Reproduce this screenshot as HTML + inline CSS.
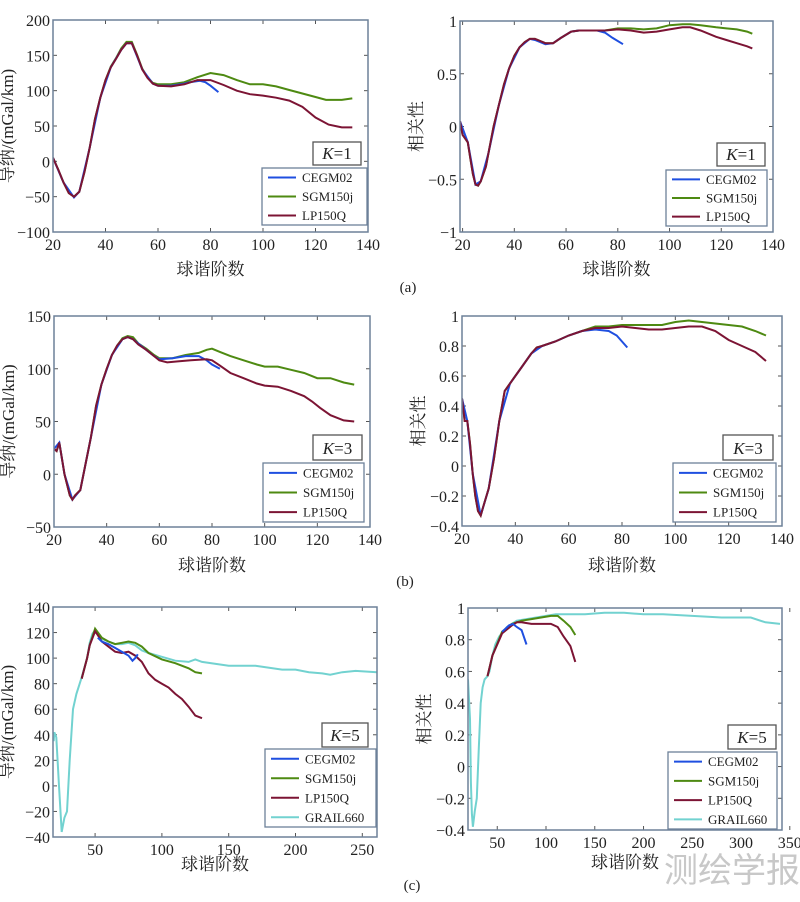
<!DOCTYPE html>
<html><head><meta charset="utf-8"><style>
body{margin:0;background:#fff;width:800px;height:897px;overflow:hidden}
svg text{font-family:"Liberation Serif","Noto Serif CJK SC",serif;fill:#222}
</style></head><body>
<svg id="fig" width="800" height="897" xmlns="http://www.w3.org/2000/svg">
<text x="408" y="292" font-size="15" text-anchor="middle">(a)</text>
<text x="405" y="586" font-size="15" text-anchor="middle">(b)</text>
<text x="412" y="890" font-size="15" text-anchor="middle">(c)</text>
<text x="732" y="882" font-size="34" fill="#c8c8c8" style="fill:#c8c8c8;font-family:'Liberation Sans','Noto Sans CJK SC',sans-serif" text-anchor="middle">测绘学报</text>
</svg>
<script>
// ---- data ----
const aL_LP=[[20,5],[22,-12],[24,-30],[26,-45],[28,-50],[30,-43],[32,-15],[34,20],[36,60],[38,90],[40,115],[42,133],[44,145],[46,158],[48,167],[50,167],[52,150],[54,130],[56,118],[58,110],[60,107],[65,106],[70,109],[75,115],[80,115],[85,108],[90,100],[95,95],[100,93],[105,90],[110,86],[115,77],[120,62],[125,52],[130,48],[134,48]];
const aL_SGM=[[20,5],[22,-12],[24,-30],[26,-45],[28,-50],[30,-43],[32,-15],[34,20],[36,60],[38,90],[40,115],[42,134],[44,146],[46,160],[48,169],[50,169],[52,151],[54,131],[56,119],[58,111],[60,109],[65,109],[70,112],[75,119],[80,125],[85,122],[90,115],[95,109],[100,109],[105,106],[110,101],[115,96],[120,91],[124,87],[130,87],[134,89]];
const aL_CE=[[20,5],[24,-30],[28,-51],[30,-43],[34,20],[38,90],[42,133],[46,158],[48,167],[50,167],[54,130],[58,110],[60,107],[65,107],[70,110],[72,112],[76,114],[78,112],[80,107],[83,98]];
const aR_LP=[[19,0.05],[20,-0.08],[22,-0.15],[23,-0.3],[24,-0.45],[25,-0.55],[26,-0.56],[27,-0.52],[28,-0.45],[29,-0.38],[30,-0.25],[32,0],[34,0.2],[36,0.4],[38,0.55],[40,0.67],[42,0.75],[44,0.8],[46,0.83],[48,0.83],[50,0.81],[52,0.79],[55,0.79],[58,0.84],[62,0.9],[65,0.91],[70,0.91],[75,0.91],[80,0.92],[85,0.91],[90,0.89],[95,0.9],[100,0.92],[105,0.94],[108,0.94],[112,0.91],[118,0.85],[122,0.82],[126,0.79],[130,0.76],[132,0.74]];
const aR_SGM=[[19,0.05],[20,-0.08],[22,-0.15],[23,-0.3],[24,-0.45],[25,-0.55],[26,-0.56],[27,-0.52],[28,-0.45],[29,-0.38],[30,-0.25],[32,0],[34,0.2],[36,0.4],[38,0.55],[40,0.67],[42,0.75],[44,0.8],[46,0.83],[48,0.83],[50,0.81],[52,0.79],[55,0.79],[58,0.84],[62,0.9],[65,0.91],[70,0.91],[75,0.91],[80,0.93],[85,0.93],[90,0.92],[95,0.93],[100,0.96],[105,0.97],[108,0.97],[112,0.96],[118,0.94],[122,0.93],[126,0.92],[130,0.9],[132,0.88]];
const aR_CE=[[19,0.05],[22,-0.15],[25,-0.55],[27,-0.52],[30,-0.25],[34,0.2],[38,0.55],[42,0.75],[46,0.83],[48,0.82],[50,0.8],[52,0.78],[55,0.79],[58,0.84],[62,0.9],[65,0.91],[72,0.91],[75,0.89],[78,0.84],[82,0.78]];
const bL_LP=[[20,24],[21,22],[22,30],[23,15],[24,0],[26,-20],[27,-24],[28,-20],[30,-15],[32,10],[34,35],[36,65],[38,85],[40,100],[42,113],[44,122],[46,128],[48,130],[50,128],[52,123],[55,118],[58,112],[60,108],[63,106],[67,107],[72,108],[78,109],[80,108],[83,103],[87,96],[92,91],[97,86],[100,84],[105,83],[110,79],[115,74],[118,69],[121,63],[125,56],[130,51],[134,50]];
const bL_SGM=[[20,24],[21,22],[22,30],[23,15],[24,0],[26,-20],[27,-24],[28,-20],[30,-15],[32,10],[34,35],[36,65],[38,85],[40,100],[42,113],[44,122],[46,129],[48,131],[50,130],[52,124],[55,119],[58,113],[60,110],[65,110],[70,113],[75,115],[78,118],[80,119],[83,116],[87,112],[92,108],[97,104],[100,102],[105,102],[110,99],[115,96],[120,91],[125,91],[130,87],[134,85]];
const bL_CE=[[20,24],[22,30],[24,0],[27,-24],[30,-15],[34,35],[38,85],[42,113],[46,128],[48,130],[50,128],[55,118],[58,112],[60,109],[65,110],[70,112],[75,112],[78,108],[80,104],[83,100]];
const bR_LP=[[20,0.45],[21,0.3],[22,0.3],[23,0.15],[24,-0.05],[25,-0.2],[26,-0.3],[27,-0.33],[28,-0.27],[30,-0.15],[32,0.05],[34,0.3],[36,0.5],[38,0.55],[40,0.6],[42,0.65],[44,0.7],[46,0.75],[48,0.79],[50,0.8],[55,0.83],[60,0.87],[65,0.9],[70,0.92],[75,0.92],[80,0.93],[85,0.92],[90,0.91],[95,0.91],[100,0.92],[105,0.93],[110,0.93],[115,0.9],[120,0.84],[125,0.8],[130,0.76],[134,0.7]];
const bR_SGM=[[20,0.45],[21,0.3],[22,0.3],[23,0.15],[24,-0.05],[25,-0.2],[26,-0.3],[27,-0.33],[28,-0.27],[30,-0.15],[32,0.05],[34,0.3],[36,0.5],[38,0.55],[40,0.6],[42,0.65],[44,0.7],[46,0.75],[48,0.79],[50,0.8],[55,0.83],[60,0.87],[65,0.9],[70,0.93],[75,0.93],[80,0.94],[90,0.94],[95,0.94],[100,0.96],[105,0.97],[110,0.96],[115,0.95],[120,0.94],[125,0.93],[130,0.9],[134,0.87]];
const bR_CE=[[20,0.45],[22,0.3],[24,-0.05],[27,-0.33],[30,-0.15],[34,0.3],[38,0.55],[42,0.65],[46,0.75],[50,0.8],[55,0.83],[60,0.87],[65,0.9],[70,0.91],[75,0.9],[78,0.87],[80,0.83],[82,0.79]];
const cL_GR=[[19,35],[19.5,42],[21,38],[23,0],[25,-36],[27,-25],[29,-20],[31,20],[33.5,60],[36,72],[40,85],[44,100],[46,112],[48,119],[50,122],[52,118],[55,115],[60,113],[65,111],[70,111],[75,112],[80,110],[85,106],[90,104],[100,101],[110,98],[120,97],[125,99],[130,97],[150,94],[170,94],[190,91],[200,91],[210,89],[220,88],[226,87],[235,89],[245,90],[261,89]];
const cL_SGM=[[40,84],[44,100],[46,110],[50,123],[55,116],[60,113],[65,111],[70,112],[75,113],[80,112],[85,109],[90,104],[100,99],[110,96],[120,92],[125,89],[130,88]];
const cL_LP=[[40,84],[44,100],[46,110],[50,121],[52,118],[55,113],[60,109],[65,105],[70,104],[75,105],[80,102],[85,97],[90,88],[95,83],[100,80],[105,77],[110,72],[115,68],[120,62],[125,55],[130,53]];
const cL_CE=[[52,116],[55,113],[60,111],[65,108],[70,105],[75,102],[78,98],[80,100],[82,103]];
const cR_GR=[[20,0.55],[22,0.3],[23,-0.1],[24,-0.3],[25,-0.38],[27,-0.28],[29,-0.2],[31,0.1],[33,0.4],[35,0.5],[37,0.55],[40,0.57],[42,0.6],[45,0.7],[48,0.77],[52,0.82],[56,0.85],[60,0.88],[65,0.9],[70,0.92],[80,0.93],[90,0.94],[100,0.95],[110,0.96],[120,0.96],[140,0.96],[160,0.97],[180,0.97],[200,0.96],[220,0.96],[250,0.95],[280,0.94],[310,0.94],[325,0.91],[340,0.9]];
const cR_SGM=[[40,0.57],[45,0.7],[55,0.85],[65,0.9],[75,0.92],[85,0.93],[95,0.94],[105,0.95],[112,0.95],[118,0.92],[125,0.88],[130,0.83]];
const cR_LP=[[40,0.57],[45,0.7],[55,0.84],[65,0.89],[70,0.91],[75,0.91],[85,0.9],[95,0.9],[105,0.9],[112,0.88],[118,0.82],[125,0.76],[130,0.66]];
const cR_CE=[[55,0.85],[62,0.89],[66,0.9],[70,0.88],[75,0.86],[80,0.77]];
const tk140=[20,40,60,80,100,120,140];
const ytA=[-100,-50,0,50,100,150,200], ytAr=[-1,-0.5,0,0.5,1];
const ytB=[-50,0,50,100,150], ytCorr=[-0.4,-0.2,0,0.2,0.4,0.6,0.8,1];
const ytC=[-40,-20,0,20,40,60,80,100,120,140];
const xtC=[50,100,150,200,250], xtCr=[50,100,150,200,250,300,350];
const COL={CEGM02:'#1f4fe0',SGM150j:'#4e8a12',LP150Q:'#7c1434',GRAIL660:'#72d2d0'};
const NS='http://www.w3.org/2000/svg';
const svg=document.getElementById('fig');
function mk(tag,attrs,parent){const e=document.createElementNS(NS,tag);for(const k in attrs)e.setAttribute(k,attrs[k]);(parent||svg).appendChild(e);return e;}
function fmt(v){let s=String(v);return s.replace('-','\u2212');}
function panel(id,box,xd,yd,xt,yt,ytitle,series,kTxt,kBox,leg,xtitleY){
  const g=mk('g',{});
  
  
  const [L,T,R,B]=box;
  const sx=v=>L+(v-xd[0])/(xd[1]-xd[0])*(R-L);
  const sy=v=>B-(v-yd[0])/(yd[1]-yd[0])*(B-T);
  const clip=mk('clipPath',{id:'c'+id},g);mk('rect',{x:L,y:T,width:R-L,height:B-T},clip);
  xt.forEach(v=>{const x=sx(v);
    mk('line',{x1:x,x2:x,y1:B,y2:B-4,stroke:'#555'},g);
    mk('line',{x1:x,x2:x,y1:T,y2:T+4,stroke:'#555'},g);
    const tx=mk('text',{x:x,y:B+18,'font-size':16,'text-anchor':'middle'},g);tx.textContent=fmt(v);
    
    });
  yt.forEach(v=>{const y=sy(v);
    mk('line',{x1:L,x2:L+4,y1:y,y2:y,stroke:'#555'},g);
    mk('line',{x1:R,x2:R-4,y1:y,y2:y,stroke:'#555'},g);
    const tx=mk('text',{x:L-3,y:y+6,'font-size':16,'text-anchor':'end'},g);tx.textContent=fmt(v);
    
    });
  series.forEach(([name,data])=>{
    const p=mk('polyline',{points:data.map(d=>sx(d[0]).toFixed(1)+','+sy(d[1]).toFixed(1)).join(' '),fill:'none',stroke:COL[name],'stroke-width':2,'clip-path':'url(#c'+id+')'},g);
    
    });
  const fr=mk('rect',{x:L,y:T,width:R-L,height:B-T,fill:'none',stroke:'#6d8199','stroke-width':1.5},g);
  
  
  const xtl=mk('text',{x:(L+R)/2,y:xtitleY,'font-size':17,'text-anchor':'middle'},g);xtl.textContent='球谐阶数';
  
  
  const yx=L-(ytitle.length>4?40:38);
  const ytl=mk('text',{x:yx,y:(T+B)/2,'font-size':17,'text-anchor':'middle',transform:`rotate(-90 ${yx} ${(T+B)/2})`},g);ytl.textContent=ytitle;
  
  
  const kb=mk('rect',{x:kBox[0],y:kBox[1],width:kBox[2]-kBox[0],height:kBox[3]-kBox[1],fill:'#fff',stroke:'#555','stroke-width':1.3},g);
  
  
  const kt=mk('text',{x:(kBox[0]+kBox[2])/2,y:kBox[3]-6,'font-size':17,'text-anchor':'middle'},g);
  kt.innerHTML='<tspan font-style="italic">K</tspan>='+kTxt;
  
  
  const lb=mk('rect',{x:leg[0],y:leg[1],width:leg[2]-leg[0],height:leg[3]-leg[1],fill:'#fff',stroke:'#6d8199','stroke-width':1.3},g);
  
  
  const n=series.length, step=(leg[3]-leg[1])/n;
  const order=['CEGM02','SGM150j','LP150Q','GRAIL660'];
  series.slice().sort((a,b)=>order.indexOf(a[0])-order.indexOf(b[0])).forEach(([name],i)=>{
    const y=leg[1]+step*(i+0.5);
    const ln=mk('line',{x1:leg[0]+6,x2:leg[0]+34,y1:y,y2:y,stroke:COL[name],'stroke-width':2},g);
    
    
    const t=mk('text',{x:leg[0]+40,y:y+4.5,'font-size':13},g);t.textContent=name;
    
    
  });
}
panel('panel-a-gradient',[53,20,368,232],[20,140],[-100,200],tk140,ytA,'导纳/(mGal/km)',
 [['SGM150j',aL_SGM],['CEGM02',aL_CE],['LP150Q',aL_LP]],'1',[313,142,361,165],[262,168,367,225],275);
panel('panel-a-correlation',[460,21,773,232],[19,140],[-1,1],tk140,ytAr,'相关性',
 [['SGM150j',aR_SGM],['CEGM02',aR_CE],['LP150Q',aR_LP]],'1',[717,143,765,166],[666,170,767,226],275);
panel('panel-b-gradient',[54,316,370,527],[20,140],[-50,150],tk140,ytB,'导纳/(mGal/km)',
 [['SGM150j',bL_SGM],['CEGM02',bL_CE],['LP150Q',bL_LP]],'3',[313,435,362,460],[263,463,364,522],571);
panel('panel-b-correlation',[462,316,782,526],[20,140],[-0.4,1],tk140,ytCorr,'相关性',
 [['SGM150j',bR_SGM],['CEGM02',bR_CE],['LP150Q',bR_LP]],'3',[723,435,773,460],[673,463,776,522],571);
panel('panel-c-gradient',[53,607,377,837],[18.5,261],[-40,140],xtC,ytC,'导纳/(mGal/km)',
 [['GRAIL660',cL_GR],['SGM150j',cL_SGM],['LP150Q',cL_LP],['CEGM02',cL_CE]],'5',[322,723,368,747],[265,749,376,827],870);
panel('panel-c-correlation',[468,608,782,830],[20,342],[-0.4,1],xtCr,ytCorr,'相关性',
 [['GRAIL660',cR_GR],['SGM150j',cR_SGM],['LP150Q',cR_LP],['CEGM02',cR_CE]],'5',[728,725,776,749],[668,752,777,829],868);
</script>
</body></html>
